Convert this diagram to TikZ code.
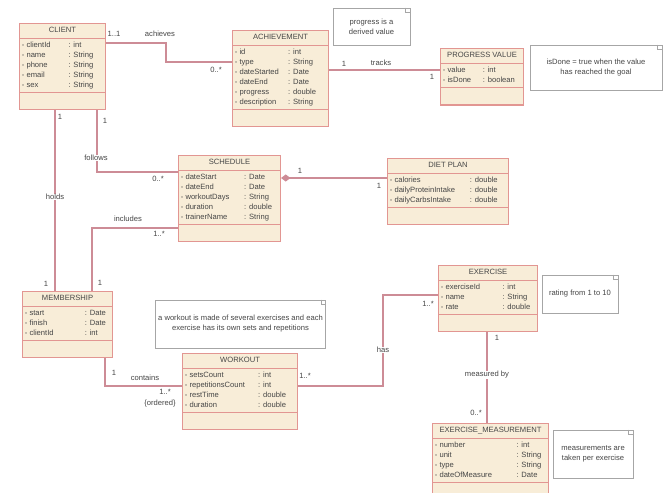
\documentclass[tikz,border=0pt]{standalone}
\usepackage{fontspec}
\setmainfont{Liberation Sans}
\usepackage{tikz}
\usetikzlibrary{arrows.meta, shapes.multipart, calc}

\definecolor{clsfill}{RGB}{248,237,216}
\definecolor{clsline}{RGB}{226,150,146}
\definecolor{linkcol}{RGB}{205,140,150}
\definecolor{txtcol}{RGB}{70,70,70}

\begin{document}
\begin{tikzpicture}[
  x=0.03cm, y=-0.03cm,
  every node/.style={font=\fontsize{6.5}{8.5}\selectfont, text=txtcol},
  cls/.style={rectangle split, rectangle split parts=3,
              rectangle split part align={center,left,left},
              draw=clsline, line width=0.9pt, fill=clsfill,
              inner xsep=2pt, inner ysep=1.5pt, anchor=north west},
  note/.style={draw=gray!70, line width=0.8pt, fill=white, align=center, inner sep=2pt},
  link/.style={draw=linkcol, line width=1pt},
  lbl/.style={inner sep=0.5pt},
  role/.style={lbl, fill=white},
]
  \useasboundingbox (0,0) rectangle (671,492);

  % classes
  \node[cls, minimum width=2.58cm] (cl) at (19,23) {\strut CLIENT
    \nodepart{two}\begin{tabular}{@{}p{1.4cm}@{}l@{}}
      - clientId & : int\\
      - name & : String\\
      - phone & : String\\
      - email & : String\\
      - sex & : String
    \end{tabular}
    \nodepart{three}\rule{0pt}{11pt}};
  \node[cls, minimum width=2.88cm] (ach) at (232,30) {\strut ACHIEVEMENT
    \nodepart{two}\begin{tabular}{@{}p{1.6cm}@{}l@{}}
      - id & : int\\
      - type & : String\\
      - dateStarted & : Date\\
      - dateEnd & : Date\\
      - progress & : double\\
      - description & : String
    \end{tabular}
    \nodepart{three}\rule{0pt}{11pt}};
  \node[cls, minimum width=2.49cm] (pv) at (440,48) {\strut PROGRESS VALUE
    \nodepart{two}\begin{tabular}{@{}p{1.2cm}@{}l@{}}
      - value & : int\\
      - isDone & : boolean
    \end{tabular}
    \nodepart{three}\rule{0pt}{11pt}};
  \node[cls, minimum width=3.06cm] (sch) at (178,155) {\strut SCHEDULE
    \nodepart{two}\begin{tabular}{@{}p{1.9cm}@{}l@{}}
      - dateStart & : Date\\
      - dateEnd & : Date\\
      - workoutDays & : String\\
      - duration & : double\\
      - trainerName & : String
    \end{tabular}
    \nodepart{three}\rule{0pt}{11pt}};
  \node[cls, minimum width=3.63cm] (diet) at (387,158) {\strut DIET PLAN
    \nodepart{two}\begin{tabular}{@{}p{2.4cm}@{}l@{}}
      - calories & : double\\
      - dailyProteinIntake & : double\\
      - dailyCarbsIntake & : double
    \end{tabular}
    \nodepart{three}\rule{0pt}{11pt}};
  \node[cls, minimum width=2.7cm] (mem) at (22,291) {\strut MEMBERSHIP
    \nodepart{two}\begin{tabular}{@{}p{1.8cm}@{}l@{}}
      - start & : Date\\
      - finish & : Date\\
      - clientId & : int
    \end{tabular}
    \nodepart{three}\rule{0pt}{11pt}};
  \node[cls, minimum width=3.45cm] (wk) at (182,353) {\strut WORKOUT
    \nodepart{two}\begin{tabular}{@{}p{2.2cm}@{}l@{}}
      - setsCount & : int\\
      - repetitionsCount & : int\\
      - restTime & : double\\
      - duration & : double
    \end{tabular}
    \nodepart{three}\rule{0pt}{11pt}};
  \node[cls, minimum width=2.97cm] (ex) at (438,265) {\strut EXERCISE
    \nodepart{two}\begin{tabular}{@{}p{1.85cm}@{}l@{}}
      - exerciseId & : int\\
      - name & : String\\
      - rate & : double
    \end{tabular}
    \nodepart{three}\rule{0pt}{11pt}};
  \node[cls, minimum width=3.48cm] (ms) at (432,423) {\strut EXERCISE\_MEASUREMENT
    \nodepart{two}\begin{tabular}{@{}p{2.45cm}@{}l@{}}
      - number & : int\\
      - unit & : String\\
      - type & : String\\
      - dateOfMeasure & : Date
    \end{tabular}
    \nodepart{three}\rule{0pt}{6pt}};

  % notes
  \node[note, minimum width=2.31cm, minimum height=1.11cm] (n1) at (371.5,26.5)
    {progress is a\\ derived value};
  \node[note, minimum width=3.96cm, minimum height=1.35cm] (n2) at (596,67.5)
    {isDone = true when the value\\ has reached the goal};
  \node[note, minimum width=4.65cm, minimum height=1.44cm] (n3) at (240.5,324)
    {a workout is made of several exercises and each\\ exercise has its own sets and repetitions};
  \node[note, minimum width=2.28cm, minimum height=1.14cm] (n4) at (580,294)
    {rating from 1 to 10};
  \node[note, minimum width=2.4cm, minimum height=1.44cm] (n5) at (593,454)
    {measurements are\\ taken per exercise};
  \foreach \n in {n1,n2,n3,n4,n5}
    \draw[gray!70, line width=0.6pt] ([xshift=-4pt]\n.north east)
      -- ([xshift=-4pt,yshift=-4pt]\n.north east) -- ([yshift=-4pt]\n.north east);

  % associations
  \coordinate (b1) at (166,43);
  \coordinate (b7) at (383,295);
  \draw[link] (cl.east |- b1) -- (b1) |- (ach.west |- 0,62);
  \draw[link] (ach.east |- 0,70) -- (pv.west |- 0,70);
  \draw[link] (cl.south -| 97,0) |- (sch.west |- 0,172);
  \draw[link] (cl.south -| 55,0) -- (mem.north -| 55,0);
  \draw[link] (sch.west |- 0,228) -| (mem.north -| 92,0);
  \draw[link] (mem.south -| 105,0) |- (wk.west |- 0,386);
  \draw[link] (wk.east |- 0,386) -| (b7) -- (ex.west |- b7);
  \draw[link] (ex.south -| 487,0) -- (ms.north -| 487,0);
  \draw[link, {Diamond[length=8pt, width=6pt, fill=linkcol]}-] (sch.east |- 0,178) -- (diet.west |- 0,178);

  % multiplicities and roles
  \node[lbl]  (m1a) at (114,34)  {1..1};
  \node[lbl]  (r1)  at (160,34)  {achieves};
  \node[lbl]  (m1b) at (216,70)  {0..*};
  \node[lbl]  (m2a) at (344,64)  {1};
  \node[lbl]  (r2)  at (381,63)  {tracks};
  \node[lbl]  (m2b) at (432,77)  {1};
  \node[lbl]  (m3a) at (105,121) {1};
  \node[role] (r3)  at (96,158)  {follows};
  \node[lbl]  (m3b) at (158,179) {0..*};
  \node[lbl]  (m4a) at (60,117)  {1};
  \node[role] (r4)  at (55,197)  {holds};
  \node[lbl]  (m4b) at (46,284)  {1};
  \node[lbl]  (r5)  at (128,219) {includes};
  \node[lbl]  (m5a) at (159,234) {1..*};
  \node[lbl]  (m5b) at (100,283) {1};
  \node[lbl]  (m6a) at (114,373) {1};
  \node[lbl]  (r6)  at (145,378) {contains};
  \node[lbl]  (m6b) at (165,392) {1..*};
  \node[lbl]  (r6b) at (160,404) {\{ordered\}};
  \node[lbl]  (m7a) at (305,376) {1..*};
  \node[role] (r7)  at (383,350) {has};
  \node[lbl]  (m7b) at (428,304) {1..*};
  \node[lbl]  (m8a) at (497,338) {1};
  \node[role] (r8)  at (487,375) {measured by};
  \node[lbl]  (m8b) at (476,413) {0..*};
  \node[lbl]  (m9a) at (300,171) {1};
  \node[lbl]  (m9b) at (379,186) {1};
\end{tikzpicture}
\end{document}
